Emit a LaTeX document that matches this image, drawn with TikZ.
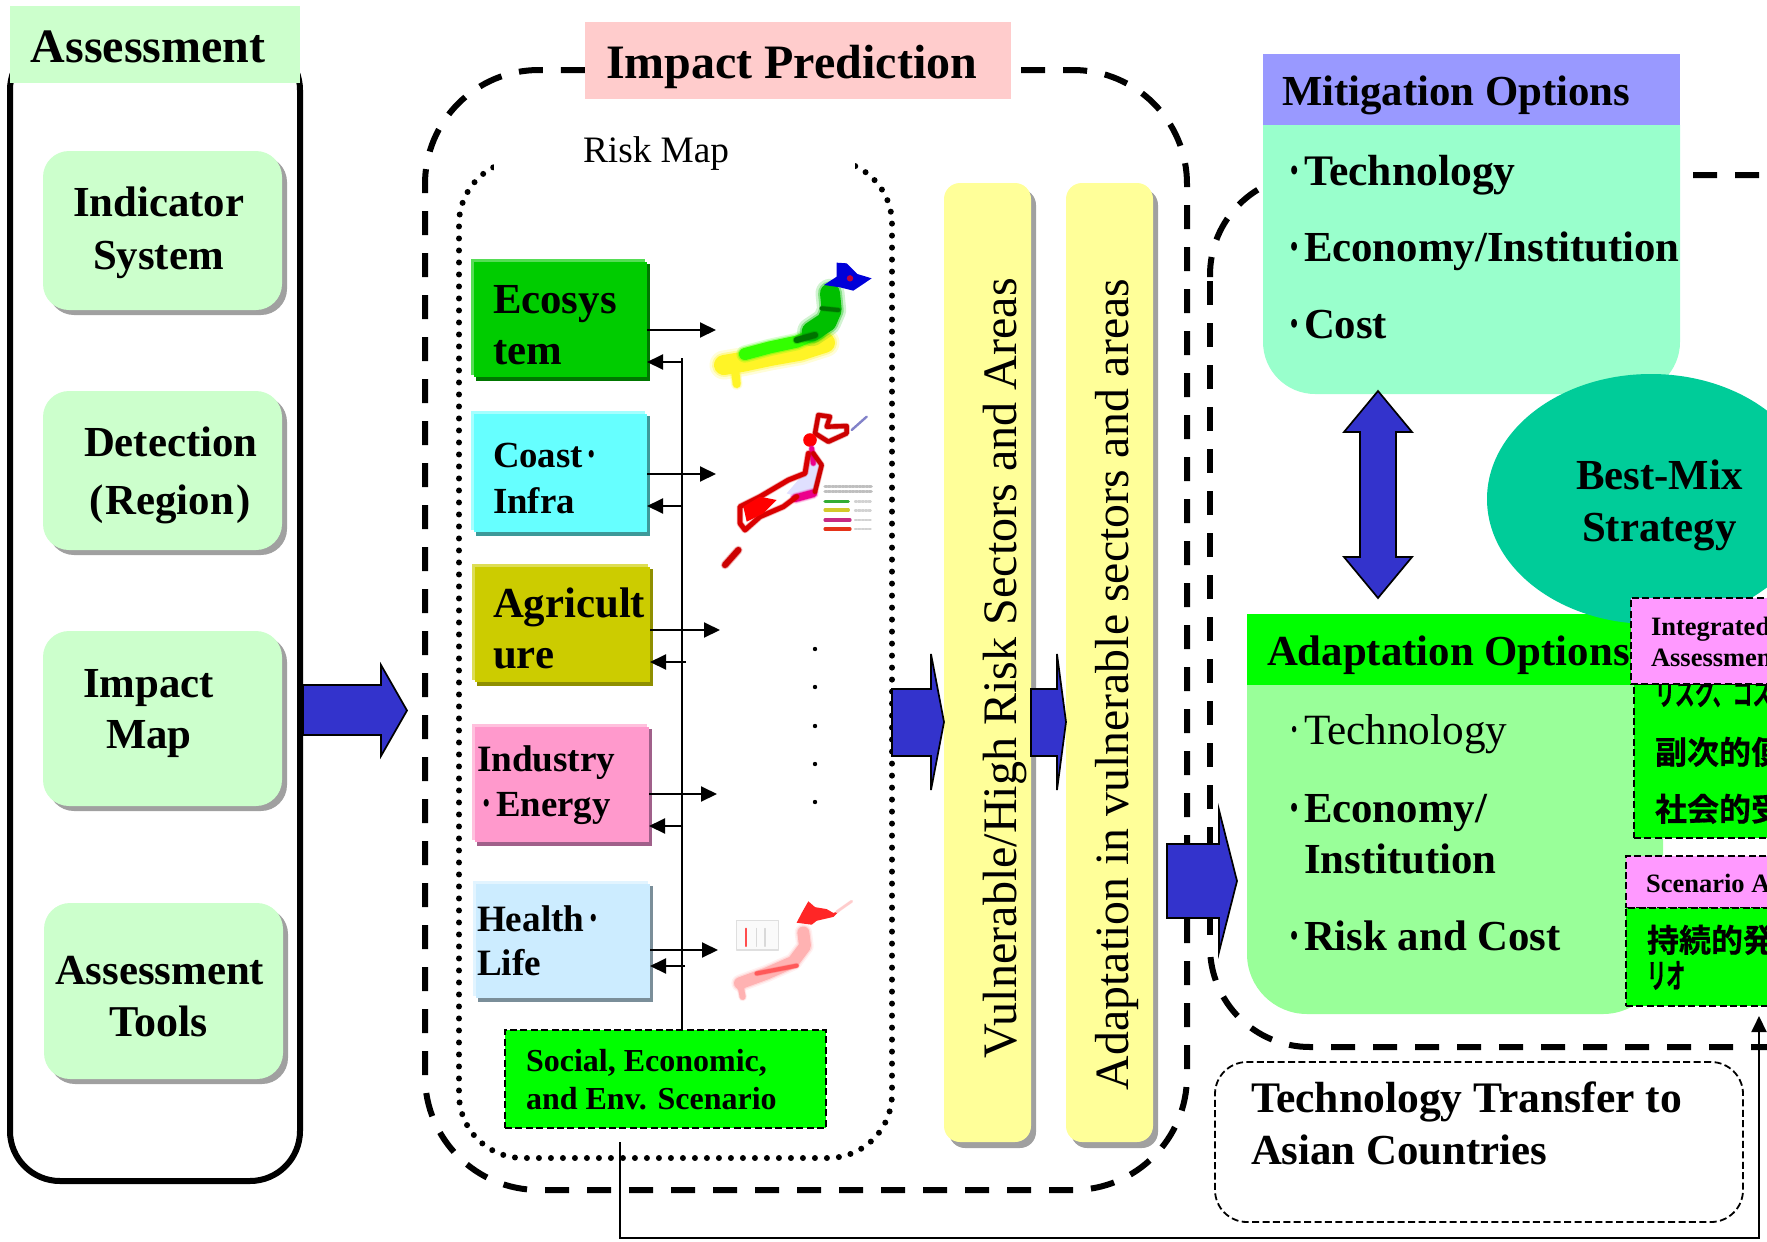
\documentclass[tikz,border=0pt]{standalone}
\usepackage{fontspec}
\usetikzlibrary{arrows.meta,shapes.geometric}
\setmainfont{Liberation Serif}
\newfontfamily\cjk{Noto Sans CJK JP}[BoldFont={Noto Sans CJK JP Bold},BoldFeatures={FakeBold=0.6}]
\definecolor{paleGreen}{HTML}{CCFFCC}
\definecolor{pinkHead}{HTML}{FFCCCC}
\definecolor{ecoMain}{HTML}{00CC00}
\definecolor{ecoLight}{HTML}{55DD55}
\definecolor{ecoDark}{HTML}{007700}
\definecolor{coastMain}{HTML}{66FFFF}
\definecolor{coastLight}{HTML}{A5FFFF}
\definecolor{coastDark}{HTML}{3D9999}
\definecolor{agriMain}{HTML}{CCCC00}
\definecolor{agriLight}{HTML}{DDDD55}
\definecolor{agriDark}{HTML}{8F8F00}
\definecolor{indMain}{HTML}{FF99CC}
\definecolor{indLight}{HTML}{FFC0DD}
\definecolor{indDark}{HTML}{A0608A}
\definecolor{healthMain}{HTML}{CCECFF}
\definecolor{healthLight}{HTML}{E2F4FF}
\definecolor{healthDark}{HTML}{7A8E99}
\definecolor{pureGreen}{HTML}{00FF00}
\definecolor{barYellow}{HTML}{FFFF99}
\definecolor{blockBlue}{HTML}{3333CC}
\definecolor{mitHead}{HTML}{9999FF}
\definecolor{mitBody}{HTML}{99FFCC}
\definecolor{adaBody}{HTML}{99FF99}
\definecolor{bestTeal}{HTML}{00CC99}
\definecolor{magentaPale}{HTML}{FF99FF}
\definecolor{shadowGrey}{HTML}{A0A0A0}
\newcommand\rnode[6]{%
  \pgfmathsetmacro\rw{(#4-(#2))/2}\pgfmathsetmacro\rh{(#5-(#3))/2}%
  \node[inner sep=0pt,outer sep=0pt,minimum width=\rw pt,minimum height=\rh pt,#6] (#1) at ({(#2+#4)/2},{(#3+#5)/2}) {};}
\newcommand\blockarrow[7]{% x0 xbase xtip shaftTop shaftBot headTop headBot
  \filldraw[blockB] (#1,#4) -- (#2,#4) -- (#2,#6) -- (#3,{(#6+#7)/2}) -- (#2,#7) -- (#2,#5) -- (#1,#5) -- cycle;}
\newcommand\secbox[8]{% name x0 y0 x1 y1 main light dark
  \rnode{#1s}{#2+5}{#3+5}{#4+3}{#5+4}{fill=#8}
  \rnode{#1l}{#2}{#3}{#4-2}{#5-2}{fill=#7}
  \rnode{#1}{#2+3}{#3+3}{#4}{#5}{fill=#6}}
\newcommand\dotmark{\raisebox{-.08em}{\scalebox{.85}[1.25]{·}}}
\newcommand\bul[1]{\makebox[#1][l]{\dotmark}}
% soft stroke: colour, width in pt, path
\newcommand\soft[3]{%
  \draw[line width=#2*1.45,color=#1,opacity=.18] #3;
  \draw[line width=#2*1.2,color=#1,opacity=.35] #3;
  \draw[line width=#2,color=#1] #3;}
\tikzset{
  blockB/.style={fill=blockBlue,draw=black,line width=.85pt,line join=miter},
  tx/.style={inner sep=0pt,outer sep=0pt,anchor=base west,text=black},
  bxxl/.style={tx,font=\bfseries\fontsize{24}{26}\selectfont},
  bxl/.style={tx,font=\bfseries\fontsize{21.4}{26}\selectfont},
  bxm/.style={tx,font=\bfseries\fontsize{18.4}{22}\selectfont},
  bxs/.style={tx,font=\bfseries\fontsize{16}{20}\selectfont},
  bxt/.style={tx,font=\bfseries\fontsize{13.25}{16}\selectfont},
  rgl/.style={tx,font=\fontsize{21.6}{26}\selectfont},
  rbar/.style={tx,font=\fontsize{24.05}{26}\selectfont,rotate=90},
  cj/.style={tx,font=\cjk\bfseries\fontsize{16}{20}\selectfont},
  bigdash/.style={draw=black,line width=3pt,dash pattern=on 12pt off 9pt},
  thindash/.style={draw=black,line width=.9pt,dash pattern=on 3.5pt off 1.7pt},
  roundbox/.style={rounded corners=13pt},
  conn/.style={draw=black,line width=1pt,-{Triangle[length=8pt,width=7.5pt]}},
  plainline/.style={draw=black,line width=1pt},
}
\begin{document}
\begin{tikzpicture}[x=0.5pt,y=-0.5pt]
\path[use as bounding box,clip] (0,0) rectangle (1767,1242);
% ---------- Assessment column
\rnode{assessOuter}{10}{40}{300}{1181}{draw=black,line width=3pt,rounded corners=25pt}
\rnode{assessHead}{10}{6}{300}{83}{fill=paleGreen}
\node[bxxl] (tAssess) at (31,62) {Assessment};
\rnode{s1}{48}{156}{287}{315}{fill=shadowGrey,roundbox}
\rnode{ind}{43}{151}{282}{310}{fill=paleGreen,roundbox}
\rnode{s2}{48}{396}{287}{555}{fill=shadowGrey,roundbox}
\rnode{det}{43}{391}{282}{550}{fill=paleGreen,roundbox}
\rnode{s3}{48}{636}{287}{811}{fill=shadowGrey,roundbox}
\rnode{imp}{43}{631}{282}{806}{fill=paleGreen,roundbox}
\rnode{s4}{49}{908}{288}{1084}{fill=shadowGrey,roundbox}
\rnode{tools}{44}{903}{283}{1079}{fill=paleGreen,roundbox}
\node[bxl] (t1) at (73,216) {Indicator};
\node[bxl] (t2) at (93,269) {System};
\node[bxl] (t3) at (84,456) {Detection};
\node[bxl] (t4) at (89,514) {(\kern1.2pt Region\kern1.2pt)};
\node[bxl] (t5) at (83,697) {Impact};
\node[bxl] (t6) at (106,748) {Map};
\node[bxl] (t7) at (55,984) {Assessment};
\node[tx,font=\bfseries\fontsize{22}{26}\selectfont] (t8) at (109,1036) {Tools};
% ---------- Impact prediction frame
\draw[bigdash] (545,1190) [rounded corners=57pt] -- (1187,1190) -- (1187,70) -- (1000,70);
\draw[bigdash,dash phase=12pt] (545,1190) [rounded corners=57pt] -- (425,1190) -- (425,70) -- (600,70);
\rnode{impactHead}{585}{22}{1011}{99}{fill=pinkHead}
\node[bxxl] (tImpact) at (606,78) {Impact Prediction};
\rnode{riskFrame}{459}{160}{892}{1158}{draw=black,line width=3pt,line cap=round,dash pattern=on 0pt off 6pt,rounded corners=32pt}
\rnode{riskCover}{494}{130}{855}{170}{fill=white}
\node[tx,font=\fontsize{18.65}{22}\selectfont] (tRisk) at (583,162) {Risk Map};
% ---------- Scenario box
\rnode{soc}{505}{1030}{826}{1128}{fill=pureGreen,thindash}
\node[bxs] (tS1) at (526,1071) {Social, Economic,};
\node[bxs] (tS2) at (526,1109) {and Env. Scenario};
% ---------- Sector boxes
\secbox{eco}{471}{259}{647}{377}{ecoMain}{ecoLight}{ecoDark}
\secbox{coast}{471}{411}{647}{532}{coastMain}{coastLight}{coastDark}
\secbox{agri}{472}{564}{650}{682}{agriMain}{agriLight}{agriDark}
\secbox{indu}{472}{724}{649}{842}{indMain}{indLight}{indDark}
\secbox{hlth}{473}{881}{650}{998}{healthMain}{healthLight}{healthDark}
\node[bxl] (tE1) at (493,313) {Ecosys};
\node[bxl] (tE2) at (493,364) {tem};
\node[bxm] (tC1) at (493,467) {Coast\hspace{2pt}\dotmark};
\node[bxm] (tC2) at (493,513) {Infra};
\node[bxl] (tA1) at (493,617) {Agricult};
\node[bxl] (tA2) at (493,668) {ure};
\node[tx,font=\bfseries\fontsize{18.6}{22}\selectfont] (tI1) at (477,771) {Industry};
\node[bxm] (tI2) at (481,816) {\bul{7.5pt}Energy};
\node[tx,font=\bfseries\fontsize{18.6}{22}\selectfont] (tH1) at (477,931) {Health\hspace{2pt}\dotmark};
\node[tx,font=\bfseries\fontsize{18.6}{22}\selectfont] (tH2) at (477,975) {Life};
% ---------- Map 1
\begin{scope}[shift={(450,230)},x=0.16667pt,y=-0.16667pt,line cap=round,line join=round]
\soft{yellow!85!white}{10pt}{(822,405) -- (880,395) -- (960,378) -- (1050,362) -- (1125,338)}
\soft{yellow!85!white}{4pt}{(855,415) -- (860,462)}
\soft{green!80!yellow}{6pt}{(885,372) -- (960,352) -- (1040,335) -- (1105,308)}
\soft{green!75!black}{10pt}{(1085,305) -- (1130,275) -- (1145,240) -- (1140,190)}
\soft{green!45!black}{3pt}{(1040,330) -- (1095,315)}
\soft{green!45!black}{2pt}{(1115,235) -- (1165,240)}
\fill[color=blue!85!black] (1122,165) -- (1160,140) -- (1160,98) -- (1190,100) -- (1222,132) -- (1265,145) -- (1210,182) -- (1170,172) -- cycle;
\fill[color=purple] (1200,145) circle[radius=1.6pt];
\end{scope}
% ---------- Map 2
\begin{scope}[shift={(450,230)},x=0.16667pt,y=-0.16667pt,line cap=round,line join=round]
\draw[line width=1.2pt,color=blue!40!gray!70] (1205,600) -- (1250,560);
\fill[color=blue!12!white] (1090,660) -- (1115,700) -- (1090,780) -- (1040,800) -- (1010,790) -- (1070,720) -- cycle;
\soft{red!80!black}{2.2pt}{(1105,555) -- (1140,560) -- (1130,590) -- (1190,588) -- (1190,610) -- (1135,635) -- (1095,610) -- cycle}
\fill[color=red] (1080,630) circle[radius=3.4pt];
\soft{magenta}{2.4pt}{(1085,655) -- (1090,700)}
\soft{magenta}{3.8pt}{(1090,790) -- (1035,805)}
\soft{red!80!black}{2.2pt}{(1090,670) -- (1115,705) -- (1095,785)}
\soft{red!85!black}{2.4pt}{(1075,670) -- (1065,730) -- (1015,750) -- (930,800) -- (870,830) -- (870,880) -- (885,900) -- (930,860) -- (1000,830) -- (1040,800)}
\fill[color=red] (880,830) -- (930,800) -- (980,810) -- (940,850) -- (890,875) -- cycle;
\soft{red!80!black}{3pt}{(865,960) -- (825,1005)}
\draw[line width=1.6pt,color=green!60!black!80] (1125,815) -- (1195,815);
\draw[line width=1.6pt,color=yellow!80!black] (1125,840) -- (1195,840);
\draw[line width=1.6pt,color=magenta!80!black] (1125,870) -- (1200,870);
\draw[line width=1.6pt,color=red!60!brown] (1125,897) -- (1200,897);
\draw[line width=1.6pt,color=gray!50,dash pattern=on 1pt off .7pt] (1125,770) -- (1265,770) (1125,785) -- (1265,785);
\draw[line width=1.2pt,color=gray!35,dash pattern=on 1pt off .7pt] (1215,815) -- (1265,815) (1215,842) -- (1265,842) (1215,870) -- (1265,870) (1215,897) -- (1265,897);
\end{scope}
% ---------- Map 3
\begin{scope}[shift={(450,630)},x=0.16667pt,y=-0.19516pt,line cap=round,line join=round]
\draw[line width=.6pt,color=gray!25,fill=gray!4] (860,745) rectangle (985,820);
\draw[line width=1pt,color=red!70] (887,765) -- (887,810);
\draw[line width=.8pt,color=gray!30] (920,765) -- (920,810) (945,765) -- (945,810);
\fill[color=red!85!white] (1040,750) -- (1055,725) -- (1075,695) -- (1095,710) -- (1130,715) -- (1150,725) -- (1170,718) -- (1150,735) -- (1100,745) -- (1085,755) -- cycle;
\soft{red!20!white}{1.2pt}{(1160,722) -- (1205,695)}
\soft{red!30!white}{6pt}{(1060,775) -- (1065,810) -- (1030,850) -- (950,880) -- (870,905)}
\soft{red!30!white}{3pt}{(870,905) -- (878,940)}
\soft{red!65!white}{2pt}{(920,880) -- (1040,860)}
\end{scope}
% ---------- Vertical dots
\foreach \n/\yy in {a/649,b/687,c/726,d/764,e/802}{
  \node[circle,fill=black,inner sep=0pt,minimum size=2.2pt] (dot\n) at (815,\yy) {};
}
% ---------- Trunk and connectors
\coordinate (trunkTop) at (682,358);
\draw[plainline] (soc.north -| trunkTop) -- (trunkTop);
\coordinate (mE) at (716,330); \coordinate (mC) at (716,474); \coordinate (mA) at (720,630);
\coordinate (mI) at (717,794); \coordinate (mH) at (718,950);
\draw[conn] (eco.east |- mE) -- (mE);
\draw[conn] (coast.east |- mC) -- (mC);
\draw[conn] (agri.east |- mA) -- (mA);
\draw[conn] (indu.east |- mI) -- (mI);
\draw[conn] (hlth.east |- mH) -- (mH);
\coordinate (bE) at (682,362); \coordinate (bC) at (682,506); \coordinate (bA) at (686,662);
\coordinate (bI) at (683,826); \coordinate (bH) at (685,966);
\draw[conn] (bE) -- (eco.east |- bE);
\draw[conn] (bC) -- (coast.east |- bC);
\draw[conn] (bA) -- (agri.east |- bA);
\draw[conn] (bI) -- (indu.east |- bI);
\draw[conn] (bH) -- (hlth.east |- bH);
% ---------- Yellow bars
\rnode{bar1s}{949}{189}{1036}{1148}{fill=shadowGrey,rounded corners=8pt}
\rnode{bar1}{944}{183}{1031}{1142}{fill=barYellow,rounded corners=8pt}
\rnode{bar2s}{1071}{189}{1158}{1148}{fill=shadowGrey,rounded corners=8pt}
\rnode{bar2}{1066}{183}{1153}{1142}{fill=barYellow,rounded corners=8pt}
\node[rbar] (tB1) at (1016,1058) {Vulnerable/High Risk Sectors and Areas};
\node[tx,font=\fontsize{23.9}{26}\selectfont,rotate=90] (tB2) at (1128,1090) {Adaptation in vulnerable sectors and areas};
% ---------- Block arrows left part
\blockarrow{303}{381}{407}{685}{735}{665}{756}
\blockarrow{892}{931}{944}{689}{756}{654}{790}
\blockarrow{1031}{1057}{1066}{689}{756}{654}{790}
% ---------- Options frame
\draw[bigdash] (1969,175) [rounded corners=50pt] -- (1210,175) -- (1210,277);
\draw[bigdash] (1210,281) -- (1210,940);
\draw[bigdash] (1985,1047) [rounded corners=50pt] -- (1210,1047) -- (1210,945);
% ---------- Technology transfer
\rnode{transfer}{1215}{1062}{1743}{1222}{thindash,rounded corners=16pt}
\node[tx,font=\bfseries\fontsize{21.8}{26}\selectfont] (tT1) at (1251,1112) {Technology Transfer to};
\node[bxl] (tT2) at (1251,1164) {Asian Countries};
% ---------- Mitigation
\fill[mitBody] (1263,125) -- (1680,125) -- (1680,130) [rounded corners=26pt] -- (1680,394) -- (1263,394) -- (1263,130) [sharp corners] -- cycle;
\rnode{mitH}{1263}{54}{1680}{125}{fill=mitHead}
\node[bxl] (tM0) at (1282,105) {Mitigation Options};
\node[tx,font=\bfseries\fontsize{21.8}{26}\selectfont] (tM1) at (1288,185) {\bul{8pt}Technology};
\node[bxl] (tM2) at (1288,261) {\bul{8pt}Economy/Institution};
\node[bxl] (tM3) at (1288,338) {\bul{8pt}Cost};
% ---------- Double arrow
\filldraw[blockB] (1378,391) -- (1412,432) -- (1396,432) -- (1396,557) -- (1412,557) -- (1378,598) -- (1344,557) -- (1360,557) -- (1360,432) -- (1344,432) -- cycle;
% ---------- Adaptation
\fill[adaBody] (1247,685) -- (1663,685) -- (1663,690) [rounded corners=30pt] -- (1663,1014) -- (1247,1014) -- (1247,690) [sharp corners] -- cycle;
\rnode{adaH}{1247}{614}{1640}{685}{fill=pureGreen}
\node[bxl] (tA0) at (1267,665) {Adaptation Options};
\node[rgl] (tA3) at (1288,744) {\bul{8pt}Technology};
\node[bxl] (tA4) at (1288,822) {\bul{8pt}Economy/};
\node[bxl] (tA5) at (1304,873) {Institution};
\node[bxl] (tA6) at (1288,950) {\bul{8pt}Risk and Cost};
% ---------- Best mix
\node[ellipse,fill=bestTeal,inner sep=0pt,outer sep=0pt,minimum width=164pt,minimum height=125pt] (bestMix) at (1651,499) {};
\node[bxl] (tBM1) at (1576,489) {Best-Mix};
\node[bxl] (tBM2) at (1582,541) {Strategy};
% ---------- Right boxes
\rnode{resBox}{1634}{684}{1800}{838}{fill=pureGreen,thindash}
\node[cj] (tJ1) at (1655,705) {\scalebox{0.62}[1]{リスク、コス}};
\node[cj] (tJ2) at (1655,764) {副次的便};
\node[cj] (tJ3) at (1655,821) {社会的受};
\rnode{iaBox}{1631}{598}{1800}{684}{fill=magentaPale,thindash}
\node[bxt] (tIA1) at (1651,635) {Integrated};
\node[bxt] (tIA2) at (1651,666) {Assessment};
\rnode{scBox}{1626}{856}{1800}{908}{fill=magentaPale,thindash}
\node[bxt] (tSA) at (1646,892) {Scenario A};
\rnode{susBox}{1626}{908}{1800}{1006}{fill=pureGreen,thindash}
\node[cj] (tJ4) at (1647,952) {持続的発};
\node[cj] (tJ5) at (1647,988) {\scalebox{0.6}[1.05]{リオ}};
% ---------- Last block arrow and long connector
\blockarrow{1167}{1219}{1237}{844}{918}{810}{952}
\coordinate (longStart) at (620,1142);
\coordinate (longCorner1) at (620,1238);
\coordinate (longCorner2) at (1759,1238);
\coordinate (longEnd) at (1759,1016);
\draw[conn] (longStart) -- (longCorner1) -- (longCorner2) -- (longEnd);
\end{tikzpicture}
\end{document}
